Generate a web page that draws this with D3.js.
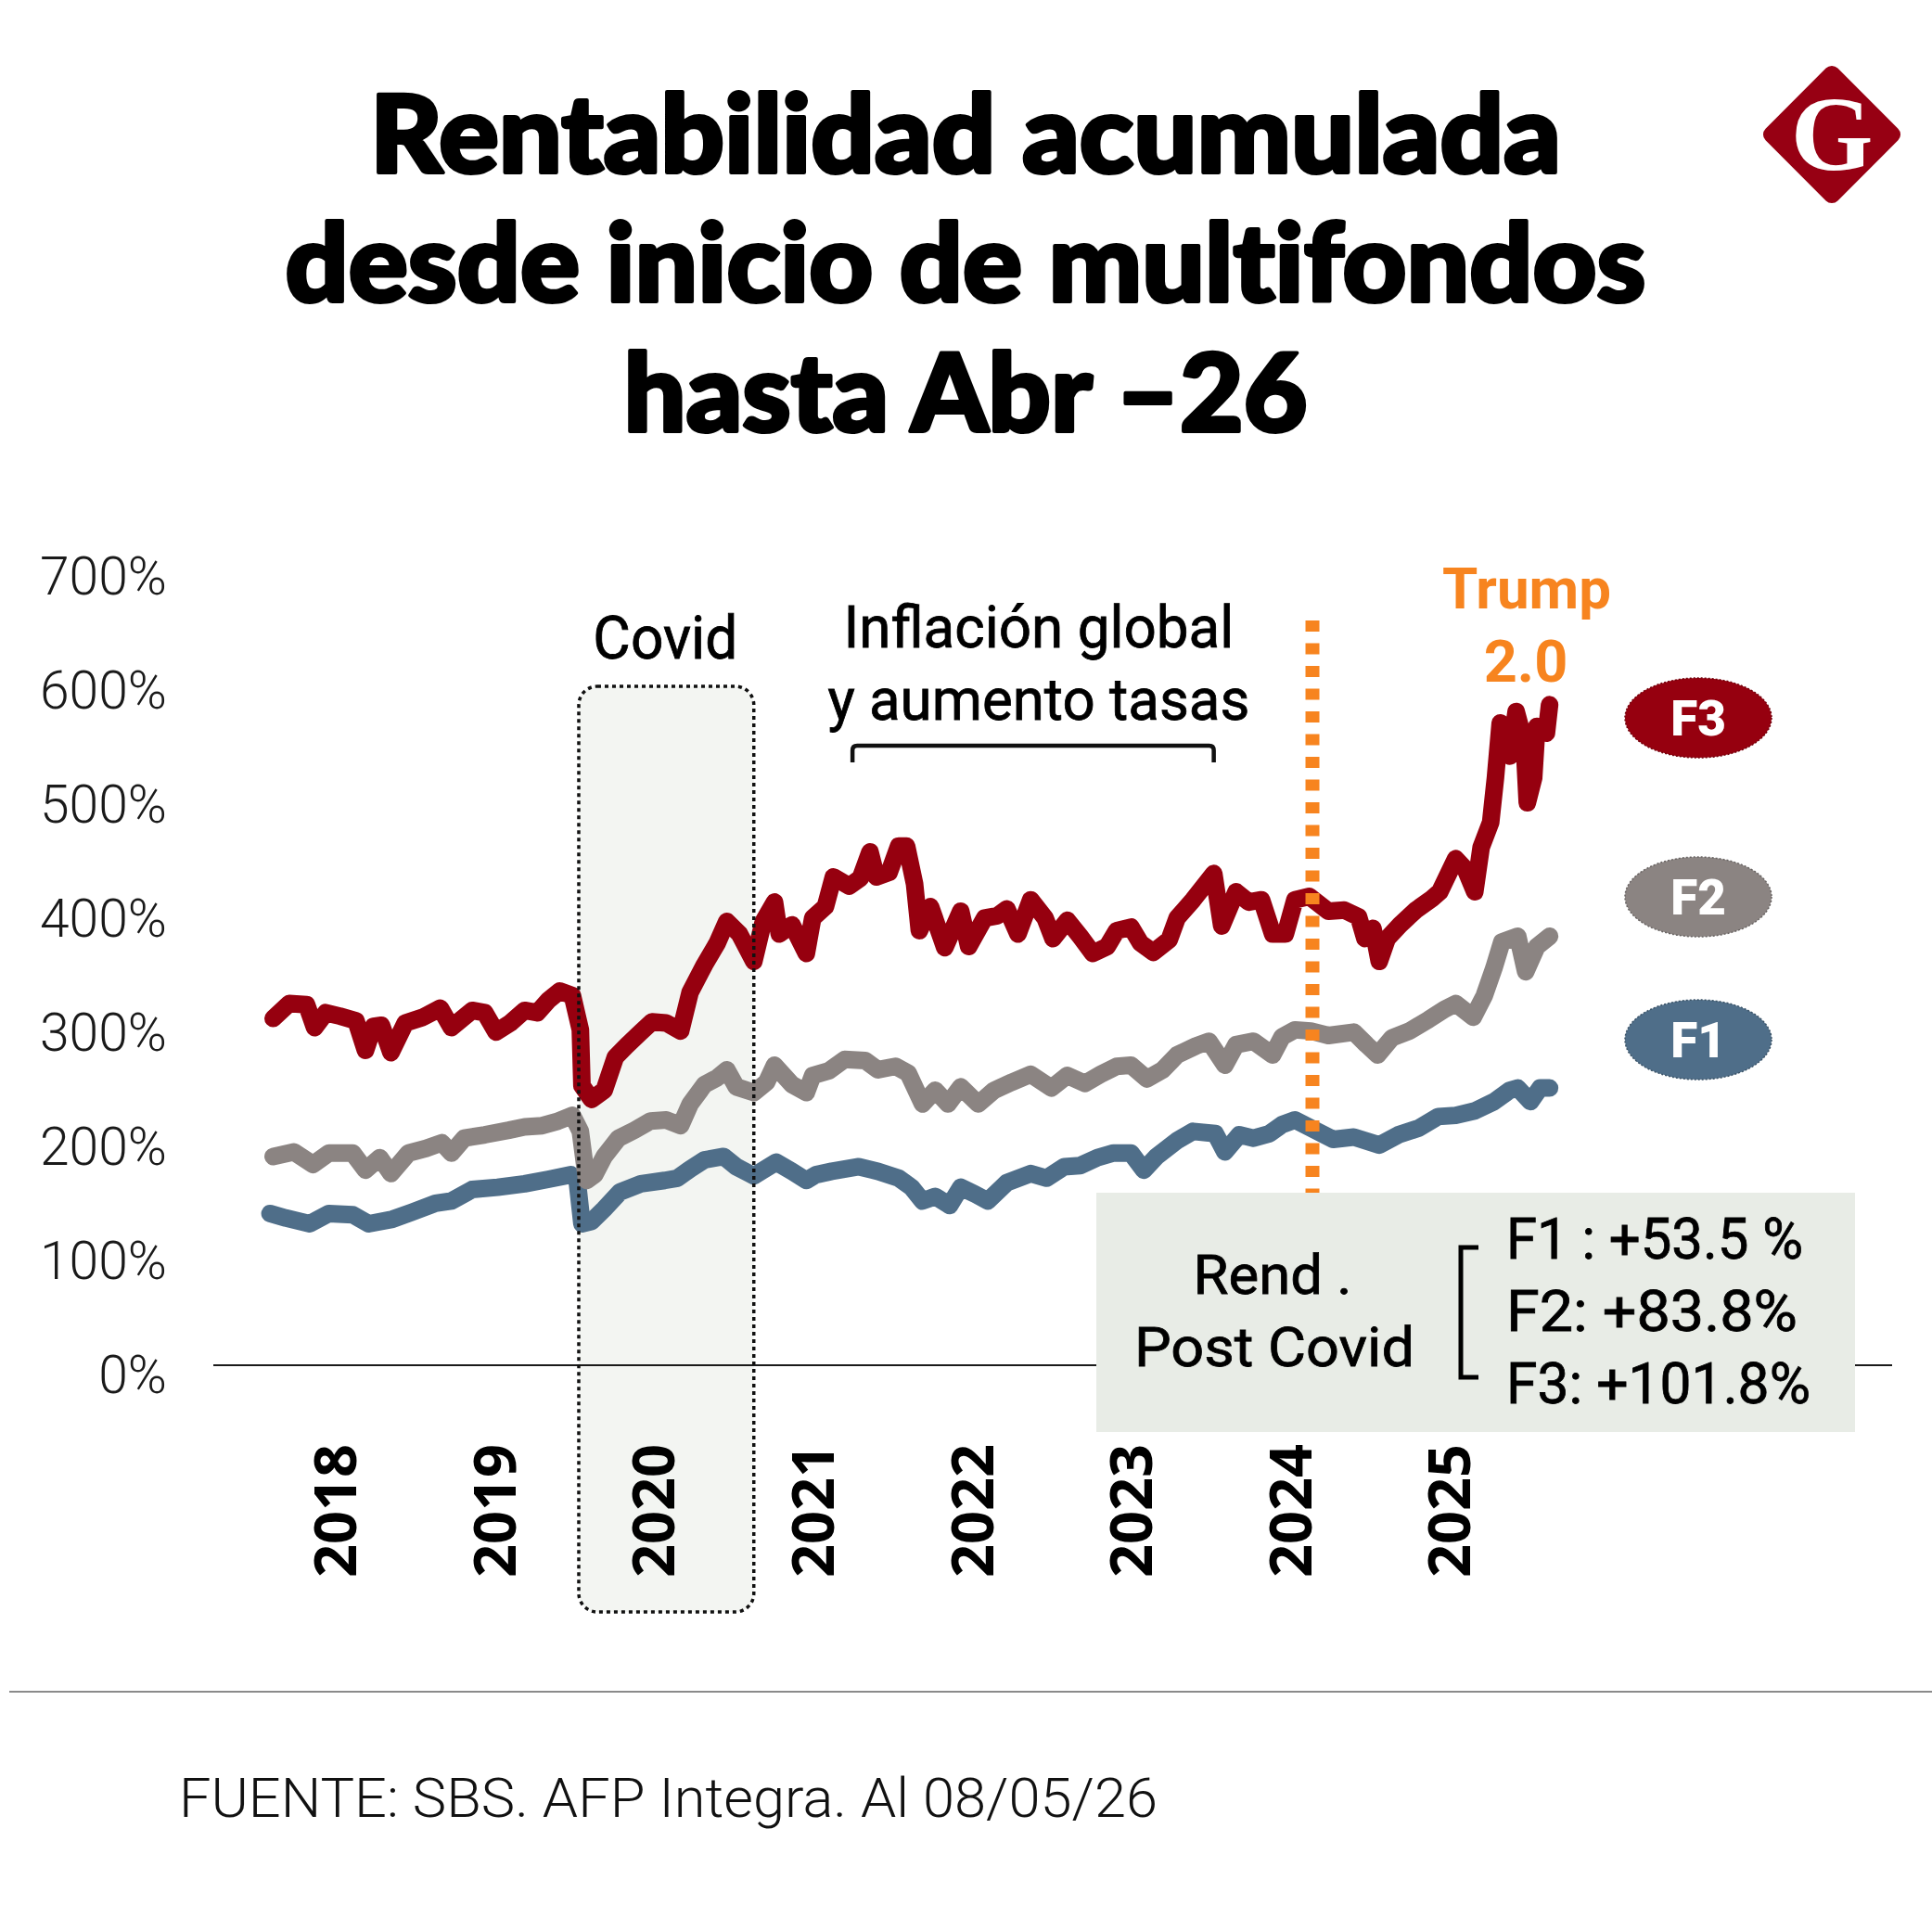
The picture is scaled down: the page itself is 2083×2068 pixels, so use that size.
<!DOCTYPE html>
<html>
<head>
<meta charset="utf-8">
<script src="https://cdn.jsdelivr.net/npm/d3@7"></script>
<style>
  body { margin: 0; background: #fff; }
  svg { display: block; }
</style>
</head>
<body>
<svg id="chart" width="2083" height="2068"></svg>
<script>
// ---- Data ----
var titleLines = ["Rentabilidad acumulada", "desde inicio de multifondos", "hasta Abr \u201326"];
var yTicks = [0, 100, 200, 300, 400, 500, 600, 700];
var yearLabels = [2018, 2019, 2020, 2021, 2022, 2023, 2024, 2025];

// [decimal year, cumulative return %]
var f3Data = [[2018.28,304],[2018.38,317],[2018.49,316],[2018.54,296],[2018.61,309],[2018.70,306],[2018.80,302],[2018.86,276],[2018.91,297],[2018.96,298],[2019.02,274],[2019.11,300],[2019.22,305],[2019.33,313],[2019.40,296],[2019.53,311],[2019.61,309],[2019.68,292],[2019.77,300],[2019.86,311],[2019.94,309],[2020.01,320],[2020.08,328],[2020.16,324],[2020.21,294],[2020.22,245],[2020.28,233],[2020.36,241],[2020.43,270],[2020.50,280],[2020.59,292],[2020.66,301],[2020.75,300],[2020.84,293],[2020.90,327],[2020.99,351],[2021.07,370],[2021.13,389],[2021.21,378],[2021.30,354],[2021.36,389],[2021.43,406],[2021.46,378],[2021.54,386],[2021.63,361],[2021.67,392],[2021.75,402],[2021.80,428],[2021.90,420],[2021.97,427],[2022.03,450],[2022.07,428],[2022.15,432],[2022.21,455],[2022.26,455],[2022.31,422],[2022.34,381],[2022.41,402],[2022.50,366],[2022.60,398],[2022.65,367],[2022.75,392],[2022.83,394],[2022.89,400],[2022.96,378],[2023.04,408],[2023.13,392],[2023.18,374],[2023.27,390],[2023.35,376],[2023.43,361],[2023.52,367],[2023.58,381],[2023.67,384],[2023.73,370],[2023.81,362],[2023.91,373],[2023.96,392],[2024.06,408],[2024.19,431],[2024.24,385],[2024.33,415],[2024.41,406],[2024.49,408],[2024.56,378],[2024.64,378],[2024.70,408],[2024.79,411],[2024.91,398],[2025.01,399],[2025.10,393],[2025.14,374],[2025.19,383],[2025.23,354],[2025.28,374],[2025.36,386],[2025.46,399],[2025.56,409],[2025.61,415],[2025.71,444],[2025.77,435],[2025.83,415],[2025.87,454],[2025.93,476],[2025.96,515],[2025.99,563],[2026.05,534],[2026.09,573],[2026.14,547],[2026.16,493],[2026.20,515],[2026.22,560],[2026.28,554],[2026.30,579]];

var f2Data = [[2018.28,183],[2018.41,187],[2018.53,176],[2018.63,186],[2018.78,186],[2018.86,171],[2018.95,182],[2019.02,168],[2019.13,186],[2019.24,190],[2019.34,195],[2019.40,186],[2019.48,199],[2019.61,202],[2019.76,206],[2019.86,209],[2019.97,210],[2020.07,214],[2020.16,219],[2020.21,205],[2020.25,162],[2020.30,167],[2020.36,183],[2020.45,199],[2020.55,206],[2020.65,214],[2020.75,215],[2020.84,210],[2020.90,229],[2020.99,246],[2021.07,252],[2021.13,259],[2021.19,244],[2021.30,239],[2021.38,248],[2021.43,263],[2021.54,246],[2021.63,239],[2021.67,254],[2021.77,258],[2021.87,268],[2022.00,267],[2022.08,259],[2022.19,262],[2022.27,256],[2022.36,229],[2022.44,241],[2022.52,229],[2022.60,244],[2022.71,229],[2022.81,241],[2022.92,248],[2023.04,255],[2023.17,243],[2023.27,254],[2023.38,247],[2023.48,255],[2023.58,262],[2023.67,263],[2023.77,251],[2023.87,259],[2023.96,272],[2024.08,280],[2024.16,284],[2024.26,263],[2024.33,281],[2024.44,284],[2024.56,272],[2024.62,288],[2024.70,294],[2024.80,293],[2024.91,289],[2025.07,292],[2025.15,281],[2025.22,272],[2025.31,287],[2025.42,293],[2025.54,303],[2025.64,312],[2025.71,317],[2025.82,305],[2025.89,324],[2025.95,348],[2026.00,371],[2026.10,376],[2026.15,345],[2026.22,367],[2026.30,376]];

var f1Data = [[2018.26,133],[2018.36,129],[2018.51,124],[2018.63,133],[2018.78,132],[2018.88,124],[2019.03,128],[2019.15,134],[2019.30,142],[2019.40,144],[2019.53,154],[2019.69,156],[2019.86,159],[2020.01,163],[2020.15,167],[2020.19,162],[2020.22,124],[2020.28,126],[2020.36,137],[2020.46,152],[2020.59,159],[2020.74,162],[2020.82,164],[2020.90,172],[2020.99,180],[2021.11,183],[2021.19,174],[2021.30,166],[2021.44,178],[2021.54,170],[2021.63,162],[2021.69,167],[2021.79,170],[2021.96,174],[2022.08,170],[2022.21,164],[2022.29,156],[2022.36,144],[2022.44,148],[2022.53,140],[2022.60,156],[2022.69,150],[2022.77,144],[2022.89,160],[2023.04,168],[2023.14,164],[2023.25,174],[2023.35,175],[2023.46,182],[2023.56,186],[2023.67,186],[2023.75,171],[2023.83,183],[2023.96,197],[2024.06,205],[2024.20,203],[2024.26,187],[2024.35,202],[2024.44,199],[2024.54,203],[2024.62,211],[2024.70,215],[2024.80,208],[2024.94,198],[2025.07,200],[2025.23,193],[2025.35,202],[2025.48,208],[2025.60,218],[2025.71,219],[2025.83,223],[2025.95,231],[2026.05,241],[2026.10,243],[2026.18,231],[2026.24,243],[2026.30,243]];

var fundNames = ["F3", "F2", "F1"];
var fundColors = ["#96000f", "#8b8482", "#4f6e89"];
var summaryLines = ["F1 : +53.5 %", "F2: +83.8%", "F3: +101.8%"];
var covidSpan = [2020.2, 2021.3];
var inflationSpan = [2021.92, 2024.19];
var trumpDate = 2024.81;
var sourceText = "FUENTE: SBS. AFP Integra. Al 08/05/26";

// ---- Layout ----
var svg = d3.select("#chart");
var labelShift = 0.67; // year labels sit late in each year in the original

var x = d3.scaleLinear().domain([2018, 2026.5]).range([246.5, 1705]);
var y = d3.scaleLinear().domain([0, 700]).range([1472, 611]);

function fit(sel, w) {
  sel.attr("textLength", w).attr("lengthAdjust", "spacingAndGlyphs");
  return sel;
}

// Title (extra stroke to get the heavy weight of the original).
var titleBase = [186, 325, 465];
var titleWidths = [1284, 1467, 737];
titleLines.forEach(function (t, i) {
  svg.append("text")
    .attr("x", 1041).attr("y", titleBase[i])
    .attr("text-anchor", "middle")
    .style("font-family", "Lato, 'DejaVu Sans', sans-serif")
    .style("font-weight", 900)
    .style("font-size", "116px")
    .style("font-variant-ligatures", "none")
    .style("fill", "#000")
    .style("stroke", "#000")
    .style("stroke-width", "4px")
    .style("stroke-linejoin", "round")
    .text(t)
    .call(fit, titleWidths[i]);
});

// Logo.
var logo = svg.append("g").attr("transform", "translate(1975,145)");
logo.append("rect")
  .attr("x", -55).attr("y", -55).attr("width", 110).attr("height", 110)
  .attr("rx", 9).attr("transform", "rotate(45)")
  .attr("fill", "#970013");
logo.append("text")
  .attr("x", 0).attr("y", 38)
  .attr("text-anchor", "middle")
  .style("font-family", "'Liberation Serif', 'DejaVu Serif', serif")
  .style("font-weight", 700)
  .style("font-size", "114px")
  .style("fill", "#fff")
  .text("G");

// Covid shaded box (fill under lines, border over lines).
var covidX0 = x(covidSpan[0]), covidX1 = x(covidSpan[1]);
svg.append("rect")
  .attr("x", covidX0).attr("y", 740)
  .attr("width", covidX1 - covidX0).attr("height", 998)
  .attr("rx", 20)
  .attr("fill", "#f3f5f2");

// Zero line.
svg.append("line")
  .attr("x1", 230).attr("x2", 2040)
  .attr("y1", y(0)).attr("y2", y(0))
  .attr("stroke", "#1a1a1a").attr("stroke-width", 2);

// Y axis labels.
var yAxis = d3.axisLeft(y).tickValues(yTicks).tickSize(0).tickPadding(50)
  .tickFormat(function (d) { return d + "%"; });
var yAxisG = svg.append("g").attr("transform", "translate(230,0)").call(yAxis);
yAxisG.select(".domain").remove();
yAxisG.selectAll("text")
  .attr("dy", "0.52em")
  .style("font-family", "Roboto, sans-serif")
  .style("font-weight", 300)
  .style("font-size", "57px")
  .style("fill", "#1a1a1a");

// Year labels, rotated.
svg.selectAll(".year")
  .data(yearLabels)
  .enter().append("text")
  .attr("class", "year")
  .attr("transform", function (d) { return "translate(" + x(d + labelShift) + ",1557) rotate(-90)"; })
  .attr("dy", "0.36em")
  .attr("text-anchor", "end")
  .style("font-family", "'Open Sans', sans-serif")
  .style("font-weight", 700)
  .style("font-size", "63px")
  .style("fill", "#000")
  .text(function (d) { return d; });

// Series lines.
var line = d3.line()
  .x(function (d) { return x(d[0]); })
  .y(function (d) { return y(d[1]); });
var allSeries = [f1Data, f2Data, f3Data];
var seriesColors = [fundColors[2], fundColors[1], fundColors[0]];
svg.selectAll(".series")
  .data(allSeries)
  .enter().append("path")
  .attr("class", "series")
  .attr("d", line)
  .attr("fill", "none")
  .attr("stroke", function (d, i) { return seriesColors[i]; })
  .attr("stroke-width", 19)
  .attr("stroke-linejoin", "round")
  .attr("stroke-linecap", "round");

// Covid border on top.
svg.append("rect")
  .attr("x", covidX0).attr("y", 740)
  .attr("width", covidX1 - covidX0).attr("height", 998)
  .attr("rx", 20)
  .attr("fill", "none")
  .attr("stroke", "#111")
  .attr("stroke-width", 3.5)
  .attr("stroke-dasharray", "4 4");

svg.append("text")
  .attr("x", (covidX0 + covidX1) / 2 - 1).attr("y", 710)
  .attr("text-anchor", "middle")
  .style("font-family", "Roboto, sans-serif")
  .style("font-size", "64px")
  .style("fill", "#000")
  .style("stroke", "#000")
  .style("stroke-width", "0.8px")
  .text("Covid")
  .call(fit, 156);

// Inflation annotation and bracket.
var infX0 = x(inflationSpan[0]), infX1 = x(inflationSpan[1]);
var infMid = (infX0 + infX1) / 2;
[["Inflaci\u00f3n global", 698, 421], ["y aumento tasas", 776, 455]].forEach(function (r) {
  svg.append("text")
    .attr("x", infMid + 6).attr("y", r[1])
    .attr("text-anchor", "middle")
    .style("font-family", "Roboto, sans-serif")
    .style("font-size", "63px")
    .style("fill", "#000")
    .style("stroke", "#000")
    .style("stroke-width", "0.8px")
    .text(r[0])
    .call(fit, r[2]);
});
svg.append("path")
  .attr("d", "M" + infX0 + ",822 L" + infX0 + ",809 Q" + infX0 + ",804 " + (infX0 + 5) + ",804 L" +
    (infX1 - 5) + ",804 Q" + infX1 + ",804 " + infX1 + ",809 L" + infX1 + ",822")
  .attr("fill", "none")
  .attr("stroke", "#111")
  .attr("stroke-width", 4.5);

// Trump dotted line and label.
var trumpX = x(trumpDate);
svg.append("line")
  .attr("x1", trumpX).attr("x2", trumpX)
  .attr("y1", 669).attr("y2", 1286)
  .attr("stroke", "#f7841f")
  .attr("stroke-width", 15)
  .attr("stroke-dasharray", "12 12.5");
svg.append("text")
  .attr("x", 1646).attr("y", 656)
  .attr("text-anchor", "middle")
  .style("font-family", "Roboto, sans-serif")
  .style("font-weight", 700)
  .style("font-size", "61px")
  .style("fill", "#f7841f")
  .text("Trump")
  .call(fit, 182);
svg.append("text")
  .attr("x", 1645).attr("y", 735)
  .attr("text-anchor", "middle")
  .style("font-family", "Roboto, sans-serif")
  .style("font-weight", 700)
  .style("font-size", "63px")
  .style("fill", "#f7841f")
  .text("2.0");

// Fund pill labels.
var pillY = [774, 967, 1121];
var pills = svg.selectAll(".pill")
  .data(fundNames)
  .enter().append("g")
  .attr("class", "pill")
  .attr("transform", function (d, i) { return "translate(1831," + pillY[i] + ")"; });
pills.append("ellipse")
  .attr("rx", 79).attr("ry", 43)
  .attr("fill", function (d, i) { return fundColors[i]; })
  .attr("stroke", function (d, i) { return d3.color(fundColors[i]).darker(0.8); })
  .attr("stroke-width", 1.5)
  .attr("stroke-dasharray", "2 2");
pills.append("text")
  .attr("y", 19)
  .attr("text-anchor", "middle")
  .style("font-family", "Roboto, sans-serif")
  .style("font-weight", 900)
  .style("font-size", "53px")
  .style("fill", "#fff")
  .text(function (d) { return d; });

// Summary box.
svg.append("rect")
  .attr("x", 1182).attr("y", 1286)
  .attr("width", 818).attr("height", 258)
  .attr("fill", "#e8ece6");
svg.append("text")
  .attr("x", 1372).attr("y", 1395)
  .attr("text-anchor", "middle")
  .style("font-family", "Roboto, sans-serif")
  .style("font-size", "60px")
  .style("fill", "#000")
  .style("stroke", "#000")
  .style("stroke-width", "0.8px")
  .text("Rend .")
  .call(fit, 171);
svg.append("text")
  .attr("x", 1374).attr("y", 1473)
  .attr("text-anchor", "middle")
  .style("font-family", "Roboto, sans-serif")
  .style("font-size", "60px")
  .style("fill", "#000")
  .style("stroke", "#000")
  .style("stroke-width", "0.8px")
  .text("Post Covid")
  .call(fit, 302);
svg.append("path")
  .attr("d", "M1594,1345 L1575,1345 L1575,1485 L1594,1485")
  .attr("fill", "none")
  .attr("stroke", "#000")
  .attr("stroke-width", 5);
var sumBase = [1357, 1435, 1513];
var sumWidths = [320, 314, 328];
summaryLines.forEach(function (t, i) {
  svg.append("text")
    .attr("x", 1624).attr("y", sumBase[i])
    .style("font-family", "Roboto, sans-serif")
    .style("font-size", "61px")
    .style("fill", "#000")
    .style("stroke", "#000")
    .style("stroke-width", "0.8px")
    .text(t)
    .call(fit, sumWidths[i]);
});

// Footer.
svg.append("line")
  .attr("x1", 10).attr("x2", 2083)
  .attr("y1", 1824).attr("y2", 1824)
  .attr("stroke", "#8a8a8a").attr("stroke-width", 2);
svg.append("text")
  .attr("x", 193).attr("y", 1959)
  .style("font-family", "Roboto, sans-serif")
  .style("font-weight", 300)
  .style("font-size", "60px")
  .style("fill", "#111")
  .text(sourceText)
  .call(fit, 1055);
</script>
</body>
</html>
